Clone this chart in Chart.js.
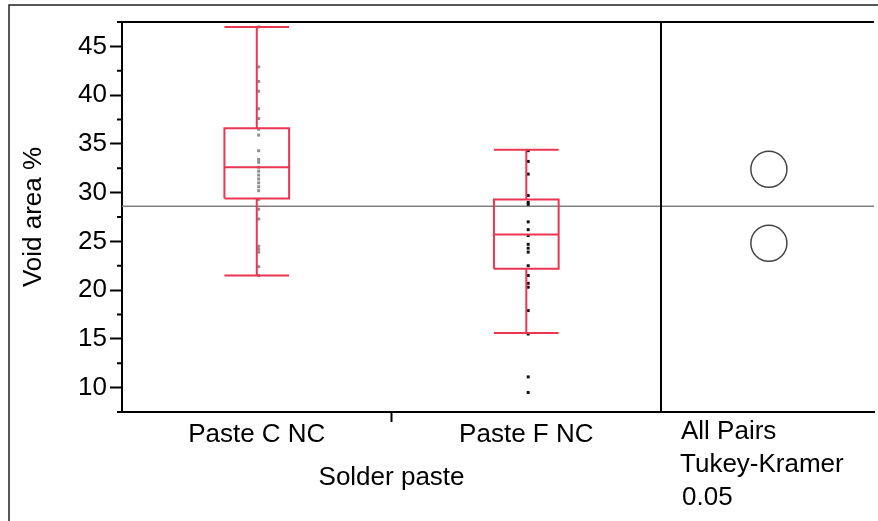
<!DOCTYPE html>
<html>
<head>
<meta charset="utf-8">
<script src="https://cdn.jsdelivr.net/npm/chart.js@4.4.1/dist/chart.umd.min.js"></script>
<style>
  html, body { margin: 0; padding: 0; background: #fff; overflow: hidden; }
  #wrap { position: relative; width: 878px; height: 521px; }
</style>
</head>
<body>
<div id="wrap"><canvas id="voidChart"></canvas></div>
<script>
// Void area % by solder paste (one-way plot with comparison circles)

const GROUPS = ['Paste C NC', 'Paste F NC'];
const WHISK_LO = [21.5, 15.6];
const Q1 = [29.4, 22.2];
const MEDIAN = [32.6, 25.7];
const Q3 = [36.6, 29.3];
const WHISK_HI = [47.0, 34.4];
const MEANS = [32.4, 24.8];
const CIRCLE_R = [1.85, 1.85];
const GRAND_MEAN = 28.6;

const PASTE_C = [47.0, 42.9, 41.4, 40.4, 38.6, 37.6, 36.5, 35.9, 34.3, 33.4, 33.1, 32.6, 32.2,
    31.8, 31.4, 31.0, 30.6, 30.2, 29.3, 28.3, 27.3, 24.5, 24.2, 23.9, 22.4, 21.5];
const PASTE_F = [34.3, 33.2, 31.9, 29.7, 29.0, 28.8, 27.0, 26.2, 25.6, 24.7, 24.3, 23.9, 22.5,
    21.5, 20.7, 20.3, 17.9, 15.5, 11.1, 9.5];

const Y_TICKS = [10, 15, 20, 25, 30, 35, 40, 45];
const Y_MINOR = [7.5, 12.5, 17.5, 22.5, 27.5, 32.5, 37.5, 42.5, 47.5];
const COMPARE_LABELS = ['All Pairs', 'Tukey-Kramer', '0.05'];

// layout constants (x units: one category = 1)
const X_MAX = 2.79;
const DIVIDER_X = 2;
const CIRCLE_X = 2.4;
const BOX_HALF = 0.12;
const DOT_SHIFT = 0.007;
const RED = '#ec3552';
const FONT = { family: 'Liberation Sans, Arial, sans-serif', size: 26 };

// build the box outline, median, whiskers and caps as one broken line per group
function boxSegments(i) {
    const c = i + 0.5;
    const l = c - BOX_HALF, r = c + BOX_HALF;
    const gap = { x: c, y: null };
    return [
        { x: l, y: Q1[i] }, { x: r, y: Q1[i] }, { x: r, y: Q3[i] }, { x: l, y: Q3[i] }, { x: l, y: Q1[i] }, gap,
        { x: l, y: MEDIAN[i] }, { x: r, y: MEDIAN[i] }, gap,
        { x: c, y: Q3[i] }, { x: c, y: WHISK_HI[i] }, gap,
        { x: l, y: WHISK_HI[i] }, { x: r, y: WHISK_HI[i] }, gap,
        { x: c, y: Q1[i] }, { x: c, y: WHISK_LO[i] }, gap,
        { x: l, y: WHISK_LO[i] }, { x: r, y: WHISK_LO[i] }
    ];
}

const boxDataset = (i) => ({
    data: boxSegments(i),
    showLine: true,
    spanGaps: false,
    borderColor: RED,
    borderWidth: 2,
    pointRadius: 0,
    order: 1
});

const dotDataset = (values, i, color) => ({
    data: values.map(v => ({ x: i + 0.5 + DOT_SHIFT, y: v })),
    pointStyle: 'rect',
    pointRadius: 2.1,
    pointBorderWidth: 0,
    pointBackgroundColor: color,
    showLine: false,
    order: 2
});

// frame, minor ticks and extra text
const decorPlugin = {
    id: 'decor',
    afterDraw(chart) {
        const { ctx, chartArea: a, scales: { x, y } } = chart;
        ctx.save();
        ctx.strokeStyle = '#222';
        ctx.lineWidth = 1.5;
        ctx.beginPath();
        ctx.moveTo(9, chart.height);
        ctx.lineTo(9, 5);
        ctx.lineTo(chart.width, 5);
        ctx.stroke();

        ctx.strokeStyle = '#000';
        ctx.lineWidth = 2;
        ctx.beginPath();
        ctx.moveTo(a.left, a.top);
        ctx.lineTo(a.right, a.top);
        const dx = Math.round(x.getPixelForValue(DIVIDER_X));
        ctx.moveTo(dx, a.top);
        ctx.lineTo(dx, a.bottom);
        Y_MINOR.forEach(v => {
            const py = y.getPixelForValue(v);
            ctx.moveTo(a.left - 5, py);
            ctx.lineTo(a.left, py);
        });
        ctx.stroke();

        ctx.fillStyle = '#000';
        ctx.font = FONT.size + 'px ' + FONT.family;
        ctx.textBaseline = 'alphabetic';
        ctx.textAlign = 'center';
        ctx.fillText('Solder paste', x.getPixelForValue(1), 485);
        ctx.textAlign = 'left';
        ctx.fillText(COMPARE_LABELS[0], dx + 20, 439);
        ctx.fillText(COMPARE_LABELS[1], dx + 19, 472);
        ctx.fillText(COMPARE_LABELS[2], dx + 21, 505);
        ctx.restore();
    }
};

new Chart(document.getElementById('voidChart'), {
    type: 'scatter',
    data: {
        datasets: [
            boxDataset(0),
            boxDataset(1),
            dotDataset(PASTE_C, 0, '#8e8e8e'),
            dotDataset(PASTE_F, 1, '#111'),
            {
                data: MEANS.map(m => ({ x: CIRCLE_X, y: m })),
                pointStyle: 'circle',
                pointRadius: (ctx) => {
                    const ys = ctx.chart.scales.y;
                    const i = ctx.dataIndex;
                    return Math.abs(ys.getPixelForValue(MEANS[i]) - ys.getPixelForValue(MEANS[i] + CIRCLE_R[i]));
                },
                pointBorderColor: '#444',
                pointBorderWidth: 1.5,
                pointBackgroundColor: 'rgba(0,0,0,0)',
                showLine: false,
                order: 1
            },
            {
                data: [{ x: 0, y: GRAND_MEAN }, { x: X_MAX, y: GRAND_MEAN }],
                showLine: true,
                borderColor: '#808080',
                borderWidth: 1.5,
                pointRadius: 0,
                order: 3
            }
        ]
    },
    options: {
        responsive: true,
        maintainAspectRatio: false,
        animation: false,
        events: [],
        layout: { padding: { left: 0, top: 22, right: 0, bottom: 0 } },
        plugins: {
            legend: { display: false },
            tooltip: { enabled: false }
        },
        scales: {
            x: {
                type: 'linear',
                min: 0,
                max: X_MAX,
                afterBuildTicks: (scale) => {
                    scale.ticks = [{ value: 0.5 }, { value: 1 }, { value: 1.5 }];
                },
                afterFit: (scale) => { scale.height = 109; },
                ticks: {
                    autoSkip: false,
                    maxRotation: 0,
                    padding: -3,
                    color: '#000',
                    font: FONT,
                    callback: (v) => v === 0.5 ? GROUPS[0] : v === 1.5 ? GROUPS[1] : ''
                },
                grid: {
                    drawOnChartArea: false,
                    tickLength: 10,
                    tickWidth: 2,
                    tickColor: (ctx) => ctx.tick && ctx.tick.value === 1 ? '#000' : 'rgba(0,0,0,0)'
                },
                border: { display: true, color: '#000', width: 2 }
            },
            y: {
                min: 7.5,
                max: 47.5,
                afterBuildTicks: (scale) => {
                    scale.ticks = Y_TICKS.map(v => ({ value: v }));
                },
                afterFit: (scale) => { scale.width = 122; },
                ticks: {
                    padding: 3,
                    color: '#000',
                    font: FONT
                },
                grid: {
                    drawOnChartArea: false,
                    tickLength: 12,
                    tickWidth: 2,
                    tickColor: '#000'
                },
                border: { display: true, color: '#000', width: 2 },
                title: {
                    display: true,
                    text: 'Void area %',
                    color: '#000',
                    font: FONT,
                    padding: { top: 18, bottom: 0 }
                }
            }
        }
    },
    plugins: [decorPlugin]
});
</script>
</body>
</html>
